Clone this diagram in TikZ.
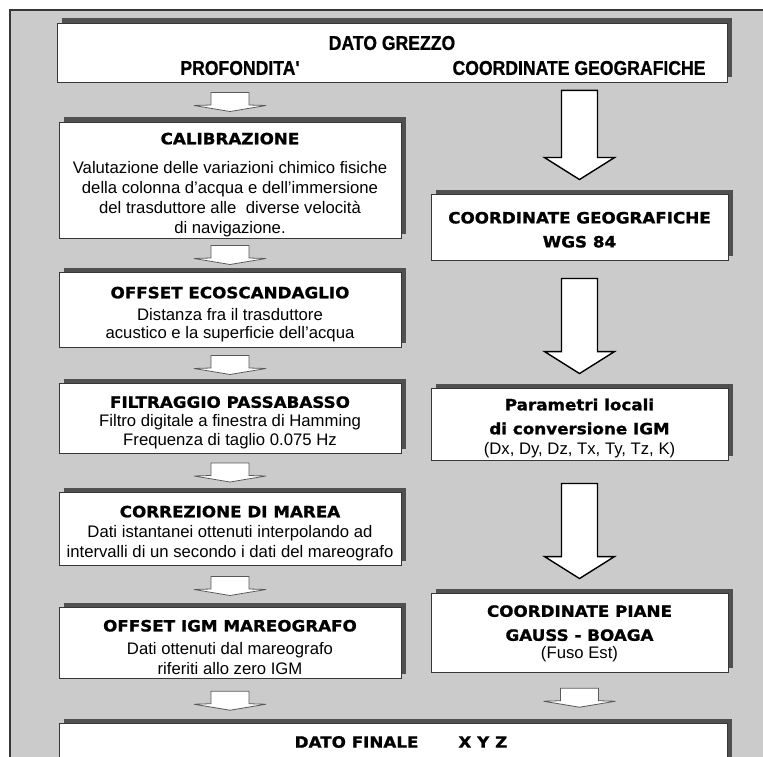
\documentclass[tikz,border=0pt]{standalone}
\usepackage{fontspec}
\setmainfont{Liberation Sans}
\newfontfamily\heavyfont[FakeStretch=1.08,FakeBold=1.2]{DejaVu Sans Bold}
\newfontfamily\narrowfont[FakeStretch=0.88,FakeBold=0.8]{Liberation Sans Bold}
\usetikzlibrary{calc,shadows}
\definecolor{panelgray}{RGB}{203,203,203}
\definecolor{shadowgray}{RGB}{80,80,80}
\definecolor{edgegray}{RGB}{55,55,55}
\newcommand{\heading}[1]{\rule{0pt}{21pt}{\fontsize{15.5}{20}\heavyfont #1}}
\newcommand{\bodytext}[1]{{\fontsize{16.7}{20}\normalfont #1}}
\newcommand{\flowarrow}[2]{%
  \path[flatarrow] let \p1=($(#1)!0.5!(#2)$) in
    (\x1-19pt,\y1+9.5pt) -- (\x1+19pt,\y1+9.5pt) -- (\x1+19pt,\y1-3pt)
    -- (\x1+36pt,\y1-3.5pt) -- (\x1,\y1-9.5pt) -- (\x1-36pt,\y1-3.5pt)
    -- (\x1-19pt,\y1-3pt) -- cycle;}
\newcommand{\bigarrow}[3]{%
  \path[blockarrow] let \p1=(#3.north), \p2=(#2.south) in
    (\x1-18pt,\y2-#1pt) -- (\x1+18pt,\y2-#1pt) -- (\x1+18pt,\y1+36pt)
    -- (\x1+35pt,\y1+36pt) -- (\x1,\y1+14pt) -- (\x1-35pt,\y1+36pt)
    -- (\x1-18pt,\y1+36pt) -- cycle;}
\tikzset{
  stage/.style={draw=edgegray, line width=0.9pt, fill=white, inner sep=0pt, align=center,
    general shadow={fill=shadowgray, shadow xshift=5pt, shadow yshift=4.5pt}},
  leftstage/.style={stage, minimum width=342pt, font=\fontsize{16.7}{20}\selectfont},
  rightstage/.style={stage, minimum width=297pt, font=\fontsize{15.5}{24}\heavyfont},
  flatarrow/.style={fill=white, draw=black!65, line width=0.8pt, line join=miter},
  blockarrow/.style={fill=white, draw=black, line width=1.4pt, line join=miter},
  toptext/.style={font=\fontsize{20}{22}\narrowfont, inner sep=0pt},
}
\begin{document}
\begin{tikzpicture}[x=1pt,y=-1pt]
\useasboundingbox (0,0) rectangle (763,757);
\draw[fill=panelgray, draw=edgegray, line width=2.5pt] (10,10) rectangle (800,800);

\node[stage, minimum width=670pt, minimum height=59pt] (top) at (392,52.5) {};
\node[toptext] (grezzo) at (392,43) {DATO GREZZO};
\node[toptext] (prof) at (240,68) {PROFONDITA'};
\node[toptext] (geo) at (579,68) {COORDINATE GEOGRAFICHE};

\node[leftstage, minimum height=116pt] (calib) at (230,180)
  {\heading{CALIBRAZIONE}\\[9pt]
   Valutazione delle variazioni chimico fisiche\\
   della colonna d'acqua e dell'immersione\\
   del trasduttore alle\ \ diverse velocità\\
   di navigazione.};
\node[leftstage, minimum height=75pt] (ecoscan) at (230,309.5)
  {\heading{OFFSET ECOSCANDAGLIO}\\[2pt]
   Distanza fra il trasduttore\\[-2pt]
   acustico e la superficie dell'acqua};
\node[leftstage, minimum height=70pt] (filtro) at (230,418)
  {\heading{FILTRAGGIO PASSABASSO}\\[-1pt]
   Filtro digitale a finestra di Hamming\\[-1pt]
   Frequenza di taglio 0.075 Hz};
\node[leftstage, minimum height=73pt] (marea) at (230,528.5)
  {\heading{CORREZIONE DI MAREA}\\
   Dati istantanei ottenuti interpolando ad\\
   intervalli di un secondo i dati del mareografo};
\node[leftstage, minimum height=71pt] (igm) at (230,642.5)
  {\heading{OFFSET IGM MAREOGRAFO}\\[3pt]
   Dati ottenuti dal mareografo\\
   riferiti allo zero IGM};

\node[rightstage, minimum height=66pt] (wgs) at (579.5,227)
  {\rule{0pt}{17pt}COORDINATE GEOGRAFICHE\\WGS 84};
\node[rightstage, minimum height=72pt] (param) at (579.5,424)
  {\rule{0pt}{20pt}Parametri locali\\di conversione IGM\\[-4pt]\bodytext{(Dx, Dy, Dz, Tx, Ty, Tz, K)}};
\node[rightstage, minimum height=79pt] (gauss) at (579.5,632.5)
  {\rule{0pt}{14pt}COORDINATE PIANE\\GAUSS - BOAGA\\[-6pt]\bodytext{(Fuso Est)}};

\node[stage, minimum width=668pt, minimum height=70pt, anchor=north] (finale) at (393,723) {};
\node[font=\fontsize{15.5}{20}\heavyfont, inner sep=0pt] (xyz) at (401,742) {DATO FINALE\hspace{40pt}X Y Z};

\flowarrow{top.south -| calib.north}{calib.north}
\flowarrow{calib.south}{ecoscan.north}
\flowarrow{ecoscan.south}{filtro.north}
\flowarrow{filtro.south}{marea.north}
\flowarrow{marea.south}{igm.north}
\flowarrow{igm.south}{igm.south |- finale.north}
\flowarrow{gauss.south}{gauss.south |- finale.north}

\bigarrow{8}{top}{wgs}
\bigarrow{18}{wgs}{param}
\bigarrow{23}{param}{gauss}
\end{tikzpicture}
\end{document}
